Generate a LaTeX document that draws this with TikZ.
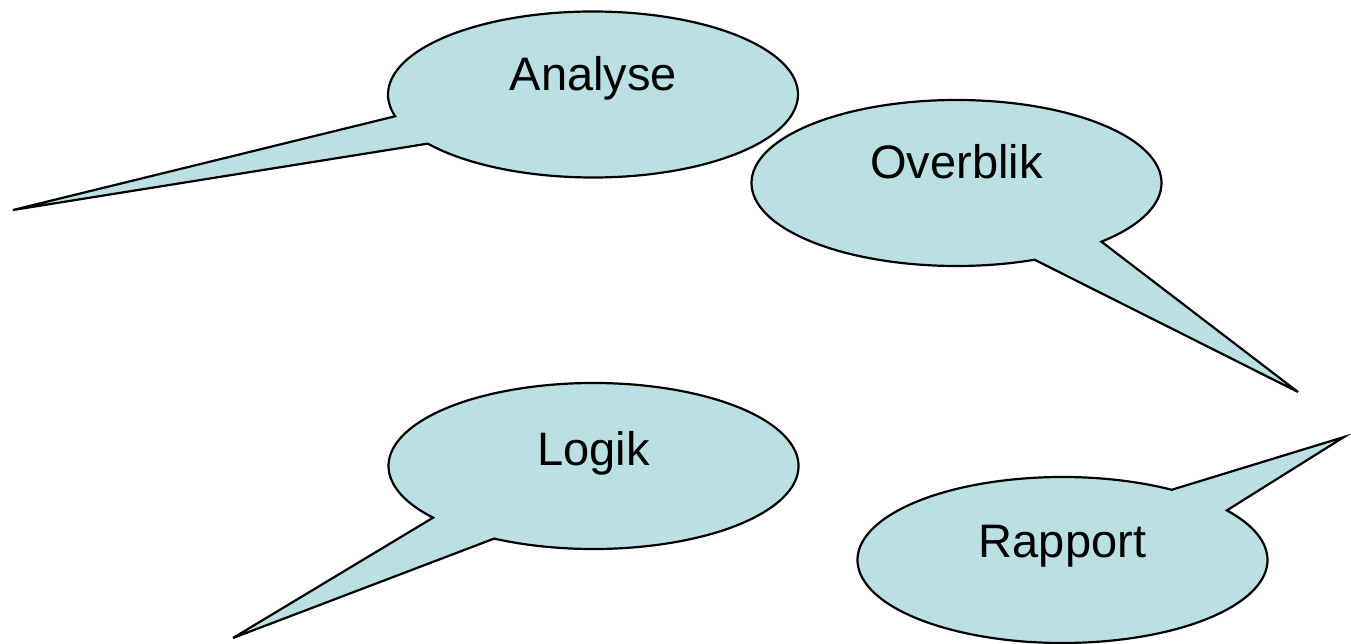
\documentclass[tikz,border=0pt]{standalone}
\usepackage{fontspec}
\setmainfont{Liberation Sans}
\usetikzlibrary{calc}
\definecolor{bubblefill}{RGB}{186,224,228}
\tikzset{
  bubble/.style={fill=bubblefill, draw=black, line width=2.2pt, line join=miter},
  lbl/.style={inner sep=0pt, anchor=base, font=\fontsize{47}{56}\selectfont}
}
\begin{document}
\begin{tikzpicture}[x=1pt,y=1pt]
\useasboundingbox (0,0) rectangle (1351,643);
% Analyse bubble: centre (593,548.5)
\coordinate (ac) at (593,548.5);
\coordinate (atip) at (13,433);
\draw[bubble] ($(ac)+(216.3:205pt and 83pt)$) arc[start angle=216.3, end angle=555.2, x radius=205pt, y radius=83pt] -- (atip) -- cycle;
% Overblik bubble: centre (956.5,460)
\coordinate (oc) at (956.5,460);
\coordinate (otip) at (1298,251);
\draw[bubble] ($(oc)+(315:205pt and 83pt)$) arc[start angle=315, end angle=652.4, x radius=205pt, y radius=83pt] -- (otip) -- cycle;
% Logik bubble: centre (593.5,177)
\coordinate (lc) at (593.5,177);
\coordinate (ltip) at (233,5);
\draw[bubble] ($(lc)+(241:205pt and 83pt)$) arc[start angle=241, end angle=578.5, x radius=205pt, y radius=83pt] -- (ltip) -- cycle;
% Rapport bubble: centre (1062.5,83)
\coordinate (rc) at (1062.5,83);
\coordinate (rtip) at (1344,206);
\draw[bubble] ($(rc)+(57.8:205pt and 83pt)$) arc[start angle=57.8, end angle=396.7, x radius=205pt, y radius=83pt] -- (rtip) -- cycle;
% labels
\node[lbl] (analyse) at (593.5,552) {Analyse};
\node[lbl] (overblik) at (956.5,464) {Overblik};
\node[lbl] (logik) at (593.5,178) {Logik};
\node[lbl] (rapport) at (1062.5,86) {Rapport};
\end{tikzpicture}
\end{document}
